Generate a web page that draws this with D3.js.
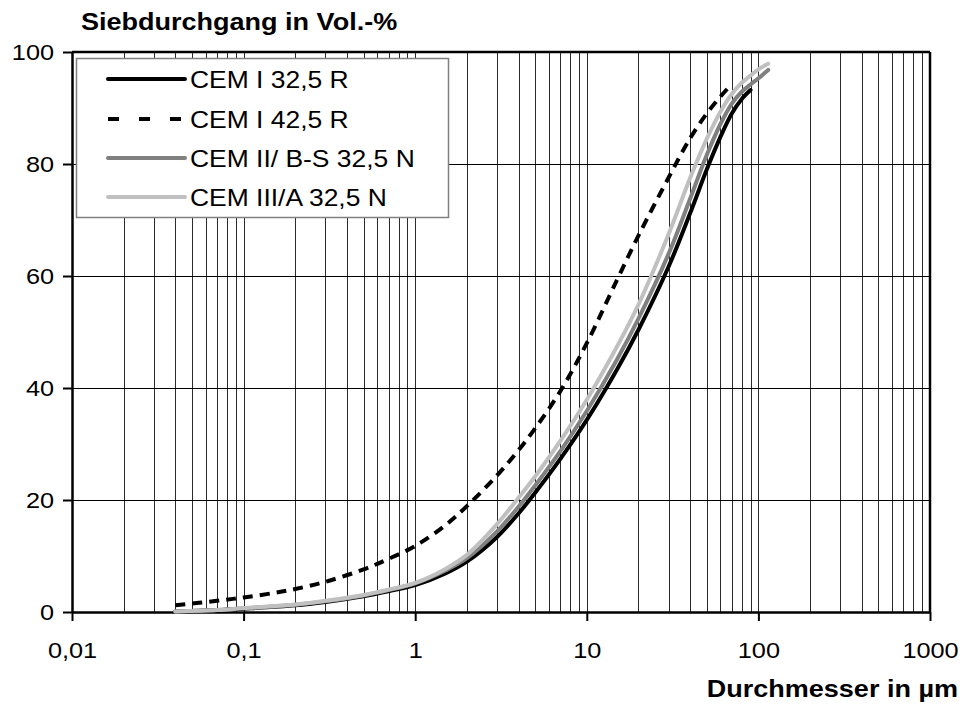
<!DOCTYPE html>
<html>
<head>
<meta charset="utf-8">
<script src="https://cdn.jsdelivr.net/npm/d3@7"></script>
<style>
  html, body { margin: 0; padding: 0; background: #fff; }
  svg { display: block; font-family: Arial, "Liberation Sans", sans-serif; }
</style>
</head>
<body>
<svg id="chart" width="965" height="706"></svg>
<script>
// Particle size distribution (Siebdurchgang) of four cements
const seriesNames = ["CEM I 32,5 R", "CEM I 42,5 R", "CEM II/ B-S 32,5 N", "CEM III/A 32,5 N"];

// particle diameters in µm and cumulative passing in Vol.-%
const sizesCem1_325 = [0.04, 0.07, 0.1, 0.2, 0.3, 0.5, 0.7, 1, 1.5, 2, 3, 4, 5, 7, 10, 15, 20, 30, 40, 50, 60, 70, 80, 90];
const passCem1_325  = [0.1, 0.35, 0.6, 1.2, 1.8, 2.8, 3.7, 4.8, 6.9, 9.0, 13.4, 17.6, 21.3, 27.3, 34.3, 43.3, 50.4, 61.7, 71.2, 79.0, 84.8, 89.0, 91.6, 93.2];

const sizesCem1_425 = [0.04, 0.07, 0.1, 0.15, 0.2, 0.3, 0.5, 0.7, 1, 1.5, 2, 3, 4, 5, 7, 10, 15, 20, 30, 40, 50, 60, 70];
const passCem1_425  = [1.2, 2.0, 2.6, 3.4, 4.1, 5.4, 7.6, 9.5, 11.8, 15.5, 18.9, 24.4, 28.9, 32.8, 39.4, 48.0, 59.3, 67.2, 77.6, 84.6, 89.0, 92.0, 94.3];

const sizesCem2 = [0.04, 0.07, 0.1, 0.2, 0.3, 0.5, 0.7, 1, 1.5, 2, 3, 4, 5, 7, 10, 15, 20, 30, 40, 50, 60, 70, 80, 90, 100, 114];
const passCem2  = [0.1, 0.35, 0.65, 1.3, 1.9, 2.95, 3.9, 5.1, 7.4, 9.6, 14.4, 18.8, 22.6, 28.7, 35.9, 45.1, 52.4, 64.0, 73.8, 81.6, 87.1, 90.8, 92.9, 94.2, 95.3, 96.8];

const sizesCem3 = [0.04, 0.07, 0.1, 0.2, 0.3, 0.5, 0.7, 1, 1.5, 2, 3, 4, 5, 7, 10, 15, 20, 30, 40, 50, 60, 70, 80, 90, 100, 114];
const passCem3  = [0.1, 0.35, 0.7, 1.35, 2.0, 3.05, 4.0, 5.2, 7.7, 10.2, 15.7, 20.4, 24.2, 30.5, 37.9, 47.4, 54.9, 67.5, 77.5, 84.5, 89.3, 92.5, 94.5, 95.8, 96.9, 97.9];

// axis ticks
const xTickValues = [0.01, 0.1, 1, 10, 100, 1000];
const xTickLabels = ["0,01", "0,1", "1", "10", "100", "1000"];
const yTickValues = [0, 20, 40, 60, 80, 100];

const yTitle = "Siebdurchgang in Vol.-%";
const xTitle = "Durchmesser in µm";

const series = [
  { name: seriesNames[0], x: sizesCem1_325, y: passCem1_325, color: "#000000", dash: null },
  { name: seriesNames[1], x: sizesCem1_425, y: passCem1_425, color: "#000000", dash: "10,7" },
  { name: seriesNames[2], x: sizesCem2,     y: passCem2,     color: "#808080", dash: null },
  { name: seriesNames[3], x: sizesCem3,     y: passCem3,     color: "#c0c0c0", dash: null }
];

const svg = d3.select("#chart");
const SX = 1.15; // horizontal text stretch

const plotLeft = 72, plotRight = 930, plotTop = 52, plotBottom = 612;
const x = d3.scaleLog().domain([0.01, 1000]).range([plotLeft, plotRight]);
const y = d3.scaleLinear().domain([0, 100]).range([plotBottom, plotTop]);

// vertical grid lines at every 1..9 × decade
const minor = [];
for (let e = -2; e < 3; e++) {
  for (let m = 1; m <= 9; m++) {
    const v = m * Math.pow(10, e);
    if (v > 0.01 && v < 1000) minor.push(v);
  }
}
svg.append("g").selectAll("line").data(minor).join("line")
  .attr("x1", d => Math.round(x(d)) + 0.5).attr("x2", d => Math.round(x(d)) + 0.5)
  .attr("y1", plotTop).attr("y2", plotBottom)
  .attr("stroke", "#2a2a2a").attr("stroke-width", 1);

// horizontal grid lines
svg.append("g").selectAll("line").data([20, 40, 60, 80]).join("line")
  .attr("x1", plotLeft).attr("x2", plotRight)
  .attr("y1", d => Math.round(y(d)) + 0.5).attr("y2", d => Math.round(y(d)) + 0.5)
  .attr("stroke", "#000").attr("stroke-width", 1);

// frame top and right
svg.append("line").attr("x1", plotLeft).attr("x2", plotRight).attr("y1", plotTop).attr("y2", plotTop)
  .attr("stroke", "#000").attr("stroke-width", 2.5);
svg.append("line").attr("x1", plotRight).attr("x2", plotRight).attr("y1", plotTop).attr("y2", plotBottom)
  .attr("stroke", "#000").attr("stroke-width", 2.5);

// axes
const xAxis = d3.axisBottom(x).tickValues(xTickValues)
  .tickFormat((d, i) => xTickLabels[i]).tickSize(9).tickSizeOuter(0).tickPadding(21);
const gx = svg.append("g").attr("transform", `translate(0,${plotBottom})`).call(xAxis);
gx.select(".domain").attr("stroke", "#000").attr("stroke-width", 2.5);
gx.selectAll(".tick line").attr("stroke", "#000").attr("stroke-width", 2);
gx.selectAll(".tick text").attr("font-size", 22).attr("fill", "#000")
  .attr("font-family", "Arial, 'Liberation Sans', sans-serif")
  .attr("transform", `scale(${SX},1)`);

const yAxis = d3.axisLeft(y).tickValues(yTickValues).tickFormat(d3.format("d"))
  .tickSize(9).tickSizeOuter(0).tickPadding(10);
const gy = svg.append("g").attr("transform", `translate(${plotLeft},0)`).call(yAxis);
gy.select(".domain").attr("stroke", "#000").attr("stroke-width", 2.5);
gy.selectAll(".tick line").attr("stroke", "#000").attr("stroke-width", 2);
gy.selectAll(".tick text").attr("font-size", 22).attr("fill", "#000")
  .attr("font-family", "Arial, 'Liberation Sans', sans-serif")
  .attr("x", -18 / SX).attr("dy", "0.36em")
  .attr("transform", `scale(${SX},1)`);

// curves
const line = d3.line().x(d => x(d[0])).y(d => y(d[1])).curve(d3.curveCatmullRom.alpha(0.5));
series.forEach(s => {
  const pts = s.x.map((v, i) => [v, s.y[i]]);
  svg.append("path").datum(pts)
    .attr("d", line)
    .attr("fill", "none")
    .attr("stroke", s.color)
    .attr("stroke-width", 4)
    .attr("stroke-linejoin", "round")
    .attr("stroke-linecap", s.dash ? "butt" : "round")
    .attr("stroke-dasharray", s.dash);
});

// legend
const lg = svg.append("g");
lg.append("rect").attr("x", 76.5).attr("y", 58.5).attr("width", 372).attr("height", 159)
  .attr("fill", "#fff").attr("stroke", "#808080").attr("stroke-width", 1.5);
const rowY = [79, 119, 158, 197];
series.forEach((s, i) => {
  lg.append("line").attr("x1", 108).attr("x2", 185).attr("y1", rowY[i]).attr("y2", rowY[i])
    .attr("stroke", s.color).attr("stroke-width", 4)
    .attr("stroke-linecap", s.dash ? "butt" : "round")
    .attr("stroke-dasharray", s.dash ? "11,20" : null);
  lg.append("text").attr("transform", `translate(190,${rowY[i] + 9}) scale(${SX},1)`)
    .attr("font-size", 23).attr("fill", "#000").text(s.name);
});

// axis titles
svg.append("text").attr("transform", `translate(81,30) scale(${SX},1)`)
  .attr("font-size", 23.5).attr("font-weight", "bold").attr("fill", "#000").text(yTitle);
svg.append("text").attr("transform", `translate(958,697) scale(${SX},1)`)
  .attr("text-anchor", "end")
  .attr("font-size", 23.5).attr("font-weight", "bold").attr("fill", "#000").text(xTitle);
</script>
</body>
</html>
